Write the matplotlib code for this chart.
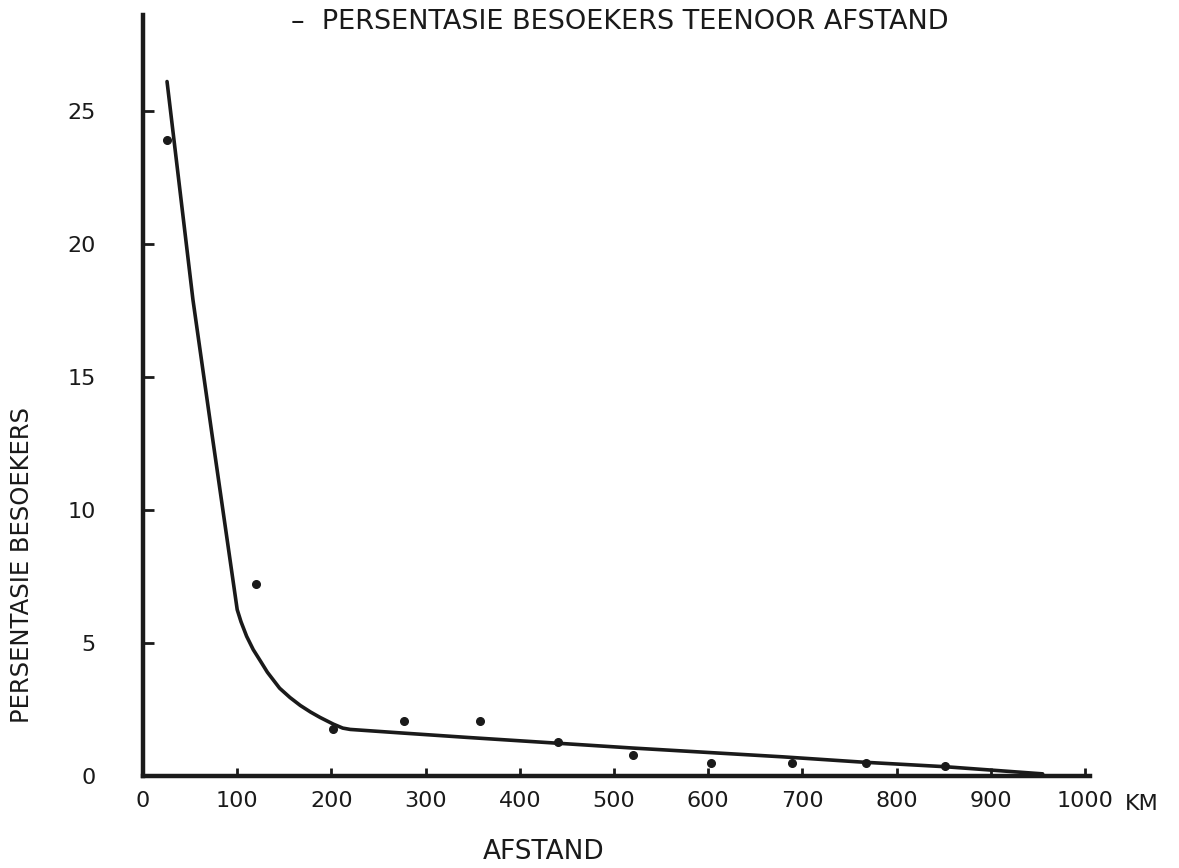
import matplotlib
matplotlib.use("Agg")
import matplotlib.pyplot as plt

# ---- data ----
curve_km = [25.5, 53, 73, 100, 104, 110, 117, 125, 132, 145, 156, 167, 178, 188, 202, 212, 220, 273, 344, 432, 520, 679, 764, 851, 955]
curve_pct = [26.1, 17.9, 12.9, 6.25, 5.8, 5.25, 4.75, 4.3, 3.9, 3.3, 2.95, 2.65, 2.4, 2.2, 1.95, 1.8, 1.75, 1.62, 1.45, 1.25, 1.05, 0.72, 0.52, 0.35, 0.08]

point_km = [25.5, 120, 202, 277, 358, 441, 520, 603, 689, 767, 851]
point_pct = [23.9, 7.2, 1.75, 2.05, 2.05, 1.28, 0.78, 0.48, 0.5, 0.5, 0.38]

x_ticks = [0, 100, 200, 300, 400, 500, 600, 700, 800, 900, 1000]
y_ticks = [0, 5, 10, 15, 20, 25]

title = "–  PERSENTASIE BESOEKERS TEENOOR AFSTAND"
xlabel = "AFSTAND"
ylabel = "PERSENTASIE BESOEKERS"
unit = "KM"

plt.rcParams['font.family'] = ['DejaVu Sans']
ink = "#1a1a1a"

fig = plt.figure(figsize=(11.79, 8.68), dpi=100)
ax = fig.add_axes([0.1213, 0.106, 0.803, 0.8767])

ax.plot(curve_km, curve_pct, color=ink, lw=2.6, solid_joinstyle='round', solid_capstyle='round', zorder=3)
ax.plot(point_km, point_pct, 'o', color=ink, ms=5.5, zorder=4)

ax.set_xlim(0, 1005)
ax.set_ylim(0, 28.6)

for s in ['top', 'right']:
    ax.spines[s].set_visible(False)
for s in ['left', 'bottom']:
    ax.spines[s].set_linewidth(3.2)
    ax.spines[s].set_color(ink)
    ax.spines[s].set_capstyle('projecting')

ax.set_xticks(x_ticks)
ax.set_xticklabels([str(v) for v in x_ticks])
ax.set_yticks(y_ticks)
ax.set_yticklabels([str(v) for v in y_ticks])
ax.tick_params(axis='x', direction='in', length=6, width=2, color=ink, pad=11,
               labelsize=16, labelcolor=ink)
ax.tick_params(axis='y', direction='in', length=8, width=2, color=ink, pad=34,
               labelsize=16, labelcolor=ink)

fig.text(0.526, 0.975, title, ha='center', va='center', fontsize=19.5, color=ink)
fig.text(0.461, 0.018, xlabel, ha='center', va='center', fontsize=19, color=ink)
fig.text(0.968, 0.074, unit, ha='center', va='center', fontsize=16, color=ink)
fig.text(0.019, 0.349, ylabel, ha='center', va='center', rotation=90, fontsize=17.5, color=ink)

fig.savefig("out.png", dpi=100, facecolor='white')
